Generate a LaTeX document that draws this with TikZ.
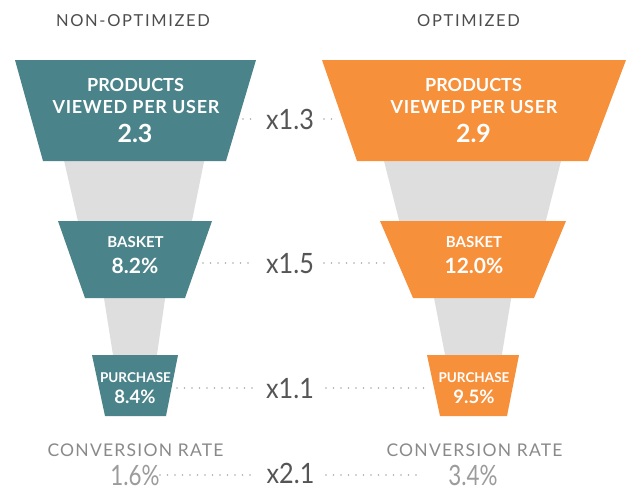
\documentclass[tikz,border=0pt]{standalone}
\usepackage{fontspec}
\setmainfont{Lato}
\newfontfamily\spacedlato[LetterSpace=10]{Lato}
\newfontfamily\convlato[LetterSpace=7]{Lato}
\newfontfamily\widebold[LetterSpace=4]{Lato Bold}
\definecolor{tealc}{HTML}{4A8389}
\definecolor{orangec}{HTML}{F6903B}
\definecolor{funnelgray}{HTML}{DEDEDE}
\definecolor{titlegray}{HTML}{4D4D4D}
\definecolor{multgray}{HTML}{555555}
\definecolor{convgray}{HTML}{8A8A8A}
\definecolor{dotgray}{HTML}{AAAAAA}
\newcommand{\narrowtext}[2]{\scalebox{#1}[1]{#2}}
\begin{document}
\begin{tikzpicture}[x=1pt,y=-1pt,
  stage/.style={draw=none},
  tealstage/.style={stage,fill=tealc},
  orangestage/.style={stage,fill=orangec},
  graypipe/.style={fill=funnelgray},
  lab/.style={inner sep=0pt,anchor=base,text=white},
  biglab/.style={lab,font=\bfseries\fontsize{18}{18}\selectfont},
  bigwide/.style={lab,font=\widebold\fontsize{18}{18}\selectfont},
  bignum/.style={lab,font=\bfseries\fontsize{25}{25}\selectfont},
  midlab/.style={lab,font=\bfseries\fontsize{15}{15}\selectfont},
  midnum/.style={lab,font=\bfseries\fontsize{21}{21}\selectfont},
  smalllab/.style={lab,font=\bfseries\fontsize{13.5}{13.5}\selectfont},
  smallnum/.style={lab,font=\bfseries\fontsize{18.5}{18.5}\selectfont},
  title/.style={inner sep=0pt,anchor=base,text=titlegray,font=\spacedlato\fontsize{16.5}{16.5}\selectfont},
  mult/.style={inner sep=0pt,anchor=base,text=multgray,font=\fontsize{28}{28}\selectfont},
  conv/.style={inner sep=0pt,anchor=base,text=convgray,font=\convlato\fontsize{17.5}{17.5}\selectfont},
  convnum/.style={inner sep=0pt,anchor=base,text=convgray!85,font=\fontsize{28}{28}\selectfont},
  dots/.style={draw=dotgray,line width=1.6pt,line cap=round,dash pattern=on 0pt off 7.5pt}
]
\clip (0,0) rectangle (626,488);
\fill[white] (0,0) rectangle (626,488);

% gray pipes
\fill[graypipe] (61.6,150) -- (206.4,150) -- (190.5,228) -- (79.5,228) -- cycle;
\fill[graypipe] (102.7,290) -- (166.3,290) -- (156.2,360) -- (113.8,360) -- cycle;
\fill[graypipe] (381.2,150) -- (563.8,150) -- (544,228) -- (401,228) -- cycle;
\fill[graypipe] (432.5,290) -- (512.5,290) -- (501,360) -- (446,360) -- cycle;

% stages left
\fill[tealstage] (15,60) -- (256,60) -- (226,161) -- (43,161) -- cycle;
\fill[tealstage] (58,221) -- (212,221) -- (185,298) -- (85,298) -- cycle;
\fill[tealstage] (92,355) -- (178,355) -- (166,416) -- (105,416) -- cycle;
% stages right
\fill[orangestage] (322,60) -- (626,60) -- (588,161) -- (357,161) -- cycle;
\fill[orangestage] (380,221) -- (566,221) -- (534,298) -- (413,298) -- cycle;
\fill[orangestage] (427,355) -- (519,355) -- (507,416) -- (440,416) -- cycle;

% titles
\node[title] (tl) at (133,26) {NON-OPTIMIZED};
\node[title] (tr) at (468.5,26) {OPTIMIZED};

% stage labels left
\node[biglab] (l1a) at (135.5,91) {PRODUCTS};
\node[bigwide] (l1b) at (136,113) {VIEWED PER USER};
\node[bignum] (l1c) at (135,142) {2.3};
\node[midlab] (l2a) at (135.5,247) {BASKET};
\node[midnum] (l2b) at (135,273) {8.2\%};
\node[smalllab] (l3a) at (135.5,382) {PURCHASE};
\node[smallnum] (l3b) at (135,403) {8.4\%};
% stage labels right
\node[biglab] (r1a) at (473.5,91) {PRODUCTS};
\node[bigwide] (r1b) at (474,113) {VIEWED PER USER};
\node[bignum] (r1c) at (473.5,142) {2.9};
\node[midlab] (r2a) at (474,247) {BASKET};
\node[midnum] (r2b) at (474,273) {12.0\%};
\node[smalllab] (r3a) at (474,382) {PURCHASE};
\node[smallnum] (r3b) at (474,403) {9.5\%};

% conversion
\node[conv] (cl) at (135.5,456) {CONVERSION RATE};
\node[conv] (cr) at (474.5,456) {CONVERSION RATE};
\node[convnum] (cln) at (135,485) {\narrowtext{0.8}{1.6\%}};
\node[convnum] (crn) at (473,485) {\narrowtext{0.8}{3.4\%}};

% multipliers
\node[mult] (m1) at (290,129) {\narrowtext{0.9}{x1.3}};
\node[mult] (m2) at (290,273) {\narrowtext{0.9}{x1.5}};
\node[mult] (m3) at (290,398) {\narrowtext{0.9}{x1.1}};
\node[mult] (m4) at (290.5,483.5) {\narrowtext{0.9}{x2.1}};

% dotted leaders
\coordinate (a1) at (243,119); \coordinate (b1) at (253,119);
\coordinate (c1) at (324,119); \coordinate (d1) at (338,119);
\coordinate (a2) at (203,263); \coordinate (b2) at (253,263);
\coordinate (c2) at (324,263); \coordinate (d2) at (386,263);
\coordinate (a3) at (177,388); \coordinate (b3) at (253,388);
\coordinate (c3) at (326,388); \coordinate (d3) at (428,388);
\coordinate (a4) at (160,475); \coordinate (b4) at (253,475);
\coordinate (c4) at (326,475); \coordinate (d4) at (419,475);
\foreach \i in {1,2,3,4} {
  \draw[dots] (a\i) -- (b\i);
  \draw[dots] (c\i) -- (d\i);
}
\end{tikzpicture}
\end{document}
